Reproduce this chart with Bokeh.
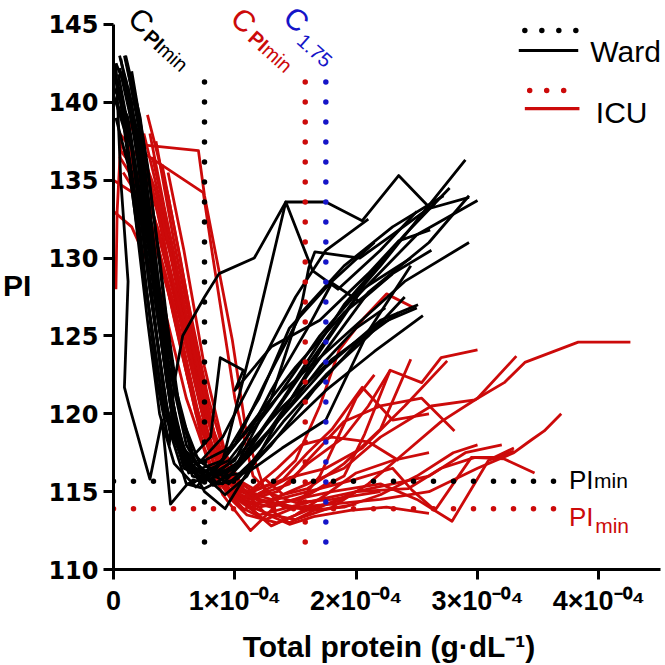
from bokeh.plotting import figure
from bokeh.models import Label, FixedTicker, Range1d
from bokeh.embed import file_html
from bokeh.resources import INLINE

# Total protein in units of 1e-4 g/dL, PI values
WARD = [
    [(0.02,142.5),(0.10,141.0),(0.25,134.0),(0.40,125.0),(0.55,118.0),(0.75,116.3),(0.95,117.0),(1.30,120.5),(1.70,125.0),(2.20,129.5),(2.90,136.3)],
    [(0.05,143.0),(0.15,140.0),(0.30,131.0),(0.45,122.0),(0.60,117.0),(0.80,115.8),(1.00,116.5),(1.40,121.0),(1.90,127.0),(2.40,131.5),(2.77,134.5)],
    [(0.00,141.0),(0.12,139.0),(0.28,130.0),(0.42,121.0),(0.58,116.5),(0.85,115.5),(1.10,117.5),(1.50,122.0),(2.00,127.5),(2.50,131.5),(3.00,133.7)],
    [(0.08,142.0),(0.20,138.0),(0.35,129.0),(0.50,120.0),(0.65,116.0),(0.90,115.5),(1.20,118.0),(1.60,122.5),(2.10,127.8),(2.60,131.0),(2.93,134.0)],
    [(0.03,140.0),(0.15,137.0),(0.30,128.0),(0.45,119.5),(0.60,116.5),(0.75,117.0),(1.00,118.0),(1.40,121.5),(1.90,125.0),(2.40,128.5),(2.93,131.0)],
    [(0.10,143.0),(0.22,139.0),(0.38,130.0),(0.50,122.0),(0.65,117.5),(0.85,116.0),(1.05,117.0),(1.35,119.5),(1.75,123.0),(2.20,126.0),(2.51,127.0)],
    [(0.03,141.5),(0.20,133.0),(0.36,122.0),(0.46,118.0),(0.50,122.0),(0.57,125.0),(0.75,127.5),(0.87,129.0),(1.16,130.0),(1.42,133.6),(1.75,133.6),(2.05,132.4),(2.35,135.3),(2.61,133.2),(2.93,133.9)],
    [(0.00,142.0),(0.15,137.0),(0.30,128.0),(0.45,120.0),(0.62,116.2),(0.90,117.0),(1.15,124.7),(1.42,133.6),(1.64,129.2),(1.85,128.0),(2.20,130.5),(2.50,133.0)],
    [(0.06,142.8),(0.20,137.0),(0.33,128.0),(0.48,120.0),(0.62,117.0),(0.80,118.5),(0.88,123.6),(1.07,122.8),(1.00,121.5),(1.30,124.3),(1.70,126.0),(2.10,129.0),(2.35,131.1),(2.61,131.8)],
    [(0.04,141.8),(0.18,136.0),(0.32,127.0),(0.46,119.0),(0.60,115.5),(0.75,115.2),(0.95,116.0),(1.30,119.0),(1.70,123.0),(2.00,125.5),(2.24,126.8)],
    [(0.02,142.5),(0.06,135.0),(0.12,128.5),(0.09,121.7),(0.13,120.5),(0.30,115.8),(0.40,119.6),(0.47,114.2),(0.61,115.5),(0.80,116.0),(1.10,119.0),(1.50,123.0),(1.90,126.5),(2.30,129.0)],
    [(0.07,142.0),(0.20,137.5),(0.35,127.0),(0.50,119.0),(0.70,116.0),(1.00,116.5),(1.30,121.0),(1.55,127.0),(1.61,129.4),(1.66,130.4),(2.03,130.0),(2.30,131.5),(2.65,133.5)],
    [(0.10,141.5),(0.22,136.0),(0.38,126.0),(0.52,118.5),(0.72,115.7),(1.00,117.0),(1.30,121.5),(1.60,125.5),(1.80,128.4),(2.03,127.2),(2.30,129.0),(2.62,130.5)],
    [(0.00,140.5),(0.10,138.0),(0.27,128.0),(0.42,120.0),(0.58,116.8),(0.80,115.8),(1.05,117.5),(1.40,120.5),(1.80,123.5),(2.20,125.8),(2.50,126.8)],
    [(0.05,142.2),(0.17,138.0),(0.32,129.0),(0.47,120.5),(0.62,116.5),(0.80,116.2),(1.00,118.0),(1.25,122.0),(1.55,126.5),(1.90,129.5),(2.30,132.0),(2.72,134.0)],
    [(0.12,141.0),(0.25,135.0),(0.40,125.0),(0.55,118.0),(0.72,116.5),(0.95,115.5),(1.15,117.0),(1.40,119.5),(1.75,122.5),(2.10,125.0),(2.40,127.5)],
    [(0.02,139.0),(0.12,136.0),(0.25,129.0),(0.40,121.0),(0.56,117.2),(0.70,116.8),(0.90,118.5),(1.20,123.0),(1.50,127.5),(1.75,130.5),(2.10,132.5)],
    [(0.15,142.0),(0.28,136.0),(0.42,127.0),(0.55,120.0),(0.70,117.0),(0.90,116.0),(1.08,116.2),(1.30,118.0),(1.65,121.5),(2.00,124.5),(2.35,126.5)],
    [(0.09,143.0),(0.20,139.0),(0.33,131.0),(0.46,123.0),(0.60,118.0),(0.75,116.0),(0.92,114.8),(1.10,116.0),(1.35,119.5),(1.70,124.0),(2.05,128.0),(2.45,130.0)],
    [(0.04,141.0),(0.14,138.0),(0.30,130.0),(0.44,122.0),(0.58,117.5),(0.75,115.0),(0.92,113.9),(1.10,116.2),(1.39,117.8),(1.75,119.6),(2.10,125.3),(2.45,129.5)],
    [(0.06,140.0),(0.16,134.0),(0.28,126.0),(0.38,120.0),(0.50,116.8),(0.68,115.3),(0.88,116.8),(1.20,121.0),(1.45,125.5),(1.80,128.5),(2.15,131.0)],
    [(0.11,142.5),(0.24,137.0),(0.37,128.5),(0.52,121.0),(0.66,117.0),(0.82,115.4),(1.02,115.8),(1.35,118.5),(1.75,121.5),(2.15,124.0),(2.55,126.3)],
]

ICU = [
    [(0.20,137.3),(0.70,136.9),(0.75,134.0),(0.98,124.7),(1.10,118.5),(1.25,115.0),(1.50,114.3),(1.80,114.5),(2.20,115.0)],
    [(0.20,137.0),(0.74,134.2),(0.82,130.0),(1.00,121.0),(1.15,116.0),(1.40,114.0),(1.70,113.8),(2.00,114.2)],
    [(0.28,139.2),(0.45,134.0),(0.62,127.0),(0.78,121.0),(0.95,116.5),(1.08,115.0),(1.30,114.5),(1.60,115.5),(1.90,116.5),(2.20,118.5),(2.62,120.5),(2.98,120.9),(3.22,122.0),(3.39,123.3),(3.83,124.6),(4.26,124.6)],
    [(0.05,138.0),(0.25,136.0),(0.48,130.0),(0.68,123.0),(0.88,117.0),(1.05,114.5),(1.30,114.0),(1.60,114.8),(1.90,116.0),(2.07,118.7),(2.28,122.8),(2.54,122.0),(2.70,123.6),(3.00,124.1)],
    [(0.02,128.0),(0.03,133.0),(0.06,137.5),(0.25,133.5),(0.48,127.0),(0.68,120.0),(0.86,116.0),(1.05,115.0),(1.30,114.2),(1.60,113.9),(1.90,114.5)],
    [(0.10,137.0),(0.32,133.0),(0.55,126.0),(0.75,119.5),(0.92,115.5),(1.08,114.2),(1.30,113.5),(1.50,113.2),(1.80,114.0),(2.10,115.5),(2.40,117.5),(2.70,119.5),(3.00,121.0),(3.32,123.7)],
    [(0.15,138.5),(0.36,133.0),(0.58,125.0),(0.78,118.5),(0.96,115.0),(1.12,114.5),(1.35,115.0),(1.60,116.8),(1.90,118.5),(2.10,120.5),(2.28,122.8)],
    [(0.00,135.0),(0.20,134.0),(0.42,129.0),(0.62,122.0),(0.82,117.0),(1.00,115.2),(1.15,113.8),(1.30,112.8),(1.50,113.5),(1.75,114.8),(2.00,116.2),(2.30,117.0),(2.60,117.5)],
    [(0.12,136.0),(0.36,131.0),(0.56,124.0),(0.74,118.0),(0.90,114.8),(1.03,113.5),(1.13,112.5),(1.30,113.8),(1.45,113.0),(1.70,114.0),(2.00,115.0),(2.43,115.2),(2.70,116.5),(2.98,117.2),(3.14,117.2),(3.30,117.8)],
    [(0.30,138.0),(0.45,132.0),(0.62,125.0),(0.80,119.0),(0.95,116.0),(1.15,115.0),(1.40,115.8),(1.60,117.5),(1.80,119.0),(2.05,121.7),(2.30,119.6),(2.60,120.0)],
    [(0.05,136.5),(0.25,134.0),(0.46,128.0),(0.66,121.0),(0.84,116.5),(1.00,114.6),(1.20,114.0),(1.50,114.5),(1.80,115.0),(2.20,115.5),(2.50,114.5),(2.79,113.1),(3.09,117.0),(3.30,117.6)],
    [(0.18,137.5),(0.42,132.0),(0.62,124.5),(0.80,118.0),(0.95,115.0),(1.12,114.2),(1.40,114.6),(1.70,115.2),(2.00,115.8),(2.30,116.5),(2.46,115.1),(2.65,113.8),(2.95,117.2),(3.22,117.1),(3.47,116.2)],
    [(0.25,138.0),(0.42,132.5),(0.60,125.0),(0.78,118.5),(0.95,115.5),(1.20,114.5),(1.50,114.0),(1.80,114.2),(2.20,114.5),(2.60,115.0),(3.00,116.5),(3.30,117.5),(3.44,118.3),(3.55,118.9),(3.69,120.0)],
    [(0.08,135.5),(0.28,133.0),(0.50,127.0),(0.70,120.0),(0.88,115.5),(1.05,114.0),(1.25,113.2),(1.50,114.0),(1.70,116.0),(1.85,118.5),(2.00,121.0),(2.15,122.5)],
    [(0.35,137.5),(0.50,131.0),(0.68,124.0),(0.85,118.0),(1.00,115.3),(1.20,114.8),(1.45,115.5),(1.60,117.0),(1.90,119.5),(2.20,120.5),(2.54,121.0),(2.81,118.9)],
    [(0.00,133.0),(0.15,132.0),(0.38,128.0),(0.60,121.0),(0.80,116.5),(0.97,114.5),(1.10,113.5),(1.35,113.0),(1.60,113.8),(1.90,114.0),(2.20,114.8),(2.50,116.0),(2.80,117.5),(3.00,118.0)],
    [(0.40,136.0),(0.55,130.0),(0.72,122.5),(0.88,117.0),(1.05,114.8),(1.30,114.2),(1.55,114.5),(1.75,115.5)],
    [(0.13,138.8),(0.34,134.5),(0.56,127.5),(0.74,120.5),(0.92,116.0),(1.08,114.5),(1.25,115.8),(1.40,114.8),(1.60,115.2),(1.90,116.8),(2.20,119.0),(2.45,123.5)],
    [(0.22,137.8),(0.38,132.5),(0.58,125.0),(0.76,119.0),(0.92,116.0),(1.10,115.0),(1.30,115.5),(1.50,117.0),(1.70,120.5),(1.86,124.1),(2.07,126.2),(2.25,127.7),(2.48,126.8)],
    [(0.05,137.0),(0.24,135.0),(0.46,129.5),(0.68,122.5),(0.88,117.0),(1.02,114.5),(1.20,113.5),(1.45,114.0),(1.70,114.5),(2.00,115.0),(2.30,115.5),(2.60,116.0),(2.90,117.5),(3.20,118.0)],
    [(0.32,136.5),(0.48,131.0),(0.65,124.5),(0.82,119.0),(0.97,116.0),(1.15,115.2),(1.35,116.5),(1.55,118.0),(1.80,118.5),(2.10,118.2),(2.35,117.0)],
    [(0.45,135.5),(0.58,130.5),(0.75,123.0),(0.92,117.5),(1.08,115.0),(1.25,113.6),(1.45,112.9),(1.65,113.4),(1.95,113.8),(2.25,114.0),(2.60,113.6)],
    [(0.10,139.0),(0.16,136.0),(0.36,132.0),(0.58,126.0),(0.76,119.0),(0.92,115.3),(1.08,113.8),(1.20,114.9),(1.45,115.9),(1.75,116.5),(2.05,117.8),(2.40,120.5),(2.75,123.4)],
]

# reference values (x in 1e-4 g/dL)
C_PIMIN_WARD = 0.75
C_PIMIN_ICU = 1.58
C_175 = 1.75
PIMIN_WARD = 115.67
PIMIN_ICU = 113.9
VLINE_PI = [141.3, 111.1]
HLINE_TP = [0.0, 3.73]

X_TICKS = [0, 1, 2, 3, 4]
X_LABELS = ["0", "1\u00d710\u207b\u2070\u2074", "2\u00d710\u207b\u2070\u2074", "3\u00d710\u207b\u2070\u2074", "4\u00d710\u207b\u2070\u2074"]
Y_TICKS = [110, 115, 120, 125, 130, 135, 140, 145]

BLACK = "#000000"
RED = "#CC0A0A"
BLUE = "#1515C8"
FONT = "Liberation Sans"

p = figure(width=665, height=665, output_backend="svg", toolbar_location=None,
           x_range=Range1d(0, 4.541), y_range=Range1d(110, 146.54),
           min_border_left=110, min_border_right=1, min_border_top=0, min_border_bottom=96)
p.outline_line_color = None
p.grid.visible = False
p.background_fill_color = "white"

for ax in (p.xaxis[0], p.yaxis[0]):
    ax.axis_line_width = 3
    ax.major_tick_line_width = 3
    ax.major_tick_out = 10
    ax.major_tick_in = 0
    ax.minor_tick_line_color = None
    ax.major_label_text_font_style = "bold"
    ax.major_label_text_color = "black"
    ax.axis_label_text_font = FONT
    ax.axis_label_text_font_style = "bold"
    ax.axis_label_text_color = "black"

p.xaxis.bounds = (0, 4.508)
p.yaxis.bounds = (110, 145)
p.xaxis.ticker = FixedTicker(ticks=X_TICKS)
p.xaxis.major_label_overrides = {t: l for t, l in zip(X_TICKS, X_LABELS)}
p.xaxis.major_label_text_font = FONT
p.xaxis.major_label_text_font_size = "27px"
p.xaxis.major_label_standoff = 6
p.xaxis.axis_label = "Total protein (g\u00b7dL\u207b\u00b9)"
p.xaxis.axis_label_text_font_size = "30px"
p.xaxis.axis_label_standoff = 11
p.yaxis.ticker = FixedTicker(ticks=Y_TICKS)
p.yaxis.major_label_text_font = "DejaVu Sans"
p.yaxis.major_label_text_font_size = "24px"
p.yaxis.major_label_standoff = 5
p.yaxis.axis_label = "PI"
p.yaxis.axis_label_orientation = "horizontal"
p.yaxis.axis_label_text_font_size = "30px"
p.yaxis.axis_label_standoff = 14

def xs_ys(curves):
    return [[pt[0] for pt in c] for c in curves], [[pt[1] for pt in c] for c in curves]

ix, iy = xs_ys(ICU)
p.multi_line(ix, iy, line_color=RED, line_width=2.8, line_join="round")
wx, wy = xs_ys(WARD)
p.multi_line(wx, wy, line_color=BLACK, line_width=2.8, line_join="round")

DOT = dict(line_dash="0 20", line_cap="round", line_width=5.5)
p.line(HLINE_TP, [PIMIN_WARD, PIMIN_WARD], line_color=BLACK, **DOT)
p.line(HLINE_TP, [PIMIN_ICU, PIMIN_ICU], line_color=RED, **DOT)
p.line([C_PIMIN_WARD, C_PIMIN_WARD], VLINE_PI, line_color=BLACK, **DOT)
p.line([C_PIMIN_ICU, C_PIMIN_ICU], VLINE_PI, line_color=RED, **DOT)
p.line([C_175, C_175], VLINE_PI, line_color=BLUE, **DOT)

# legend
LDOT = dict(line_dash="0 17", line_cap="round", line_width=5.5)
p.line([3.39, 3.83], [144.62, 144.62], line_color=BLACK, **LDOT)
p.line([3.34, 3.83], [143.33, 143.33], line_color=BLACK, line_width=3.2)
p.line([3.43, 3.84], [140.76, 140.76], line_color=RED, **LDOT)
p.line([3.39, 3.84], [139.60, 139.60], line_color=RED, line_width=3.2)

def lab(x, y, text, size, color=BLACK, style="normal", align="left", baseline="alphabetic", angle=0.0):
    p.add_layout(Label(x=x, y=y, text=text, text_font=FONT, text_font_size=size,
                       text_color=color, text_font_style=style, text_align=align,
                       text_baseline=baseline, angle=angle))

lab(3.93, 143.27, "Ward", "30px")
lab(3.975, 139.35, "ICU", "30px")

# rotated C labels
A = -0.73
lab(0.23, 145.26, "C", "30px", BLACK, align="center", baseline="middle", angle=A)
lab(0.275, 144.42, "PI", "20px", BLACK, "bold", baseline="middle", angle=A)
lab(0.390, 143.60, "min", "20px", BLACK, baseline="middle", angle=A)
lab(1.074, 145.26, "C", "30px", RED, align="center", baseline="middle", angle=A)
lab(1.136, 144.35, "PI", "20px", RED, "bold", baseline="middle", angle=A)
lab(1.251, 143.54, "min", "20px", RED, baseline="middle", angle=A)
lab(1.508, 145.32, "C", "30px", BLUE, align="center", baseline="middle", angle=A)
lab(1.538, 144.16, "1.75", "20px", BLUE, baseline="middle", angle=A)

# PI min labels at right
lab(3.754, 115.72, "PI", "26px", BLACK)
lab(3.96, 115.72, "min", "21px", BLACK)
lab(3.754, 113.34, "PI", "26px", RED)
lab(3.97, 112.83, "min", "21px", RED)

open("out.html", "w").write(file_html(p, INLINE))
